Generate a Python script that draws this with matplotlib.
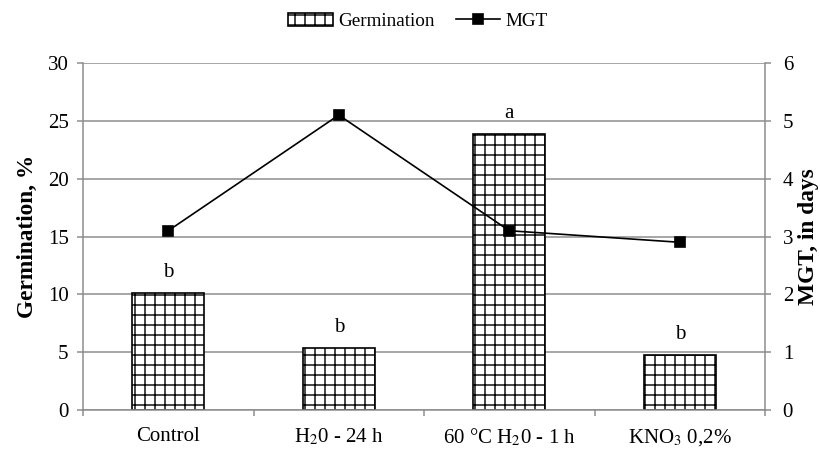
import numpy as np
import matplotlib.pyplot as plt
from matplotlib.ticker import FixedLocator, NullFormatter

DPI = 120

plt.rcParams['font.family'] = ['Liberation Serif', 'DejaVu Serif']
plt.rcParams['mathtext.fontset'] = 'stix'
plt.rcParams['hatch.linewidth'] = 0.85

#   Treatments and measured values
treatments = ['Control', 'H$_2$0 - 24 h', '60 °C H$_2$0 - 1 h', 'KNO$_3$ 0,2%']
germination = [10.1, 5.35, 23.85, 4.75]
mgt = [3.1, 5.1, 3.1, 2.9]
letters = ['b', 'b', 'a', 'b']

fig = plt.figure(figsize=(820 / DPI, 452 / DPI), dpi=DPI)
ax = fig.add_axes([0.1012, 0.0929, 0.8318, 0.7677])
ax2 = ax.twinx()

x = np.arange(len(treatments))
gray = '#8c8c8c'
tfs = 12.5

#   Germination bars on left axis
ax.set_axisbelow(True)
ax.yaxis.grid(True, color=gray, linewidth=0.9)
bars = ax.bar(x, germination, width=0.42, color='white', edgecolor='black',
              hatch='++', linewidth=1.0, label='Germination', zorder=2)
for xi, g, lt in zip(x, germination, letters):
    ax.text(xi, g + 1.4, lt, ha='center', va='baseline', fontsize=tfs)

ax.set_xlim(-0.5, len(treatments) - 0.5)
ax.set_ylim(0, 30)
ax.set_yticks(np.arange(0, 31, 5))
ax.set_xticks(x)
ax.set_xticklabels(treatments)
ax.xaxis.set_minor_locator(FixedLocator(np.arange(-0.5, len(treatments), 1.0)))
ax.xaxis.set_minor_formatter(NullFormatter())
ax.tick_params(axis='x', which='major', length=0, pad=10, labelsize=tfs)
ax.tick_params(axis='x', which='minor', length=3.6, color=gray, width=0.9)
ax.tick_params(axis='y', length=3.6, color=gray, width=0.9, pad=5, labelsize=tfs)
ax.set_ylabel('Germination, %', fontweight='bold', fontsize=14, labelpad=6)

#   MGT line on right axis
line, = ax2.plot(x, mgt, color='black', linewidth=1.0, marker='s',
                 markersize=6, label='MGT', zorder=3)
ax2.set_ylim(0, 6)
ax2.set_yticks(np.arange(0, 7, 1))
ax2.tick_params(axis='y', length=3.6, color=gray, width=0.9, pad=7, labelsize=tfs)
ax2.set_ylabel('MGT, in days', fontweight='bold', fontsize=14, labelpad=3)

for a in (ax, ax2):
    for s in a.spines.values():
        s.set_visible(False)
ax.spines['left'].set_visible(True)
ax.spines['bottom'].set_visible(True)
ax2.spines['right'].set_visible(True)
for s in (ax.spines['left'], ax.spines['bottom'], ax2.spines['right']):
    s.set_color(gray)
    s.set_linewidth(0.9)

fig.legend(handles=[bars, line], loc='upper center', bbox_to_anchor=(0.51, 1.01),
           ncol=2, frameon=False, fontsize=11.5, handlelength=2.3,
           columnspacing=1.1, handletextpad=0.3)

plt.savefig('out.png', dpi=DPI)
